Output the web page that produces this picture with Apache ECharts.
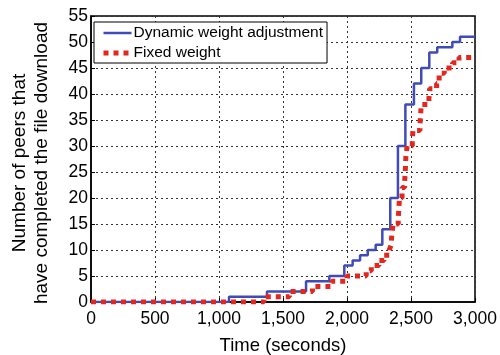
<!DOCTYPE html>
<html>
<head>
<meta charset="utf-8">
<script src="https://cdn.jsdelivr.net/npm/echarts@6/dist/echarts.min.js"></script>
<style>
  html, body { margin: 0; padding: 0; background: #fff; }
  #chart { width: 500px; height: 355px; }
</style>
</head>
<body>
<div id="chart"></div>
<script>
// Cumulative number of peers that finished the download, as step curves [time (s), peers]
const dynamicWeight = [
  [0, 0], [1078, 1], [1375, 2], [1680, 4], [1862, 5], [1979, 7], [2044, 8],
  [2102, 9], [2162, 10], [2224, 11], [2276, 14], [2338, 20], [2398, 30],
  [2456, 38], [2523, 42], [2580, 45], [2643, 48], [2705, 49], [2823, 50],
  [2883, 51], [3000, 51]
];
const fixedWeight = [
  [0, 0], [1350, 1], [1550, 2], [1730, 3], [1880, 4], [2000, 5], [2150, 6],
  [2190, 7], [2250, 8], [2290, 9], [2330, 10], [2345, 11], [2350, 13],
  [2360, 15], [2400, 16], [2405, 18], [2410, 20], [2430, 22], [2450, 23],
  [2455, 25], [2460, 28], [2470, 30], [2510, 31], [2515, 33], [2570, 34],
  [2575, 36], [2580, 38], [2640, 39], [2645, 41], [2700, 42], [2720, 44],
  [2760, 45], [2825, 46], [2875, 47], [3000, 47]
];
const seriesNames = ['Dynamic weight adjustment', 'Fixed weight'];
const xTicks = { min: 0, max: 3000, interval: 500 };
const yTicks = { min: 0, max: 55, interval: 5 };

const FONT = 'Liberation Sans, Arial, Helvetica, sans-serif';
const BLUE = '#3f4bb8';
const RED = '#e5261f';
const blueLine = { color: BLUE, width: 2.5 };
const redLine = { color: RED, width: 5, type: [5, 5], cap: 'butt' };

const chart = echarts.init(document.getElementById('chart'), null, { renderer: 'canvas' });

const gridLine = { show: true, lineStyle: { color: '#333', type: [2, 3], width: 1 } };

chart.setOption({
  animation: false,
  backgroundColor: '#fff',
  grid: {
    left: 91, right: 25, top: 16, bottom: 53,
    outerBoundsMode: 'none',
    show: true, borderColor: '#000', borderWidth: 1.5, backgroundColor: 'transparent'
  },
  legend: {
    left: 94, top: 22,
    orient: 'vertical',
    itemWidth: 28, itemHeight: 10, itemGap: 4,
    itemStyle: { opacity: 0 },
    backgroundColor: '#fff', borderColor: '#000', borderWidth: 1,
    padding: [3, 4, 2, 7],
    textStyle: { fontFamily: FONT, fontSize: 15.5, color: '#000', padding: [0, 0, 0, -3] },
    data: [
      { name: seriesNames[0], lineStyle: blueLine },
      { name: seriesNames[1], lineStyle: redLine }
    ]
  },
  xAxis: {
    type: 'value',
    min: xTicks.min, max: xTicks.max, interval: xTicks.interval,
    name: 'Time (seconds)', nameLocation: 'middle', nameGap: 34,
    nameTextStyle: { fontFamily: FONT, fontSize: 18.5, color: '#000' },
    axisLine: { show: true, lineStyle: { color: '#000', width: 1.5 } },
    axisTick: { show: true, inside: true, length: 4, lineStyle: { color: '#000' } },
    axisLabel: {
      fontFamily: FONT, fontSize: 17.5, color: '#000', margin: 8,
      formatter: v => v.toLocaleString('en-US')
    },
    splitLine: gridLine
  },
  yAxis: {
    type: 'value',
    min: yTicks.min, max: yTicks.max, interval: yTicks.interval,
    name: 'Number of peers that\nhave completed the file download',
    nameLocation: 'middle', nameGap: 38,
    nameTextStyle: { fontFamily: FONT, fontSize: 19, color: '#000', lineHeight: 22, padding: [0, 8, 0, 0] },
    axisLine: { show: true, lineStyle: { color: '#000', width: 1.5 } },
    axisTick: { show: true, inside: true, length: 4, lineStyle: { color: '#000' } },
    axisLabel: { fontFamily: FONT, fontSize: 17.5, color: '#000', margin: 3 },
    splitLine: gridLine
  },
  series: [
    {
      name: seriesNames[0],
      type: 'line', step: 'end', symbol: 'none', z: 3,
      data: dynamicWeight,
      color: BLUE,
      lineStyle: blueLine
    },
    {
      name: seriesNames[1],
      type: 'line', step: 'end', symbol: 'none', z: 4,
      data: fixedWeight,
      color: RED,
      lineStyle: redLine
    }
  ]
});
</script>
</body>
</html>
